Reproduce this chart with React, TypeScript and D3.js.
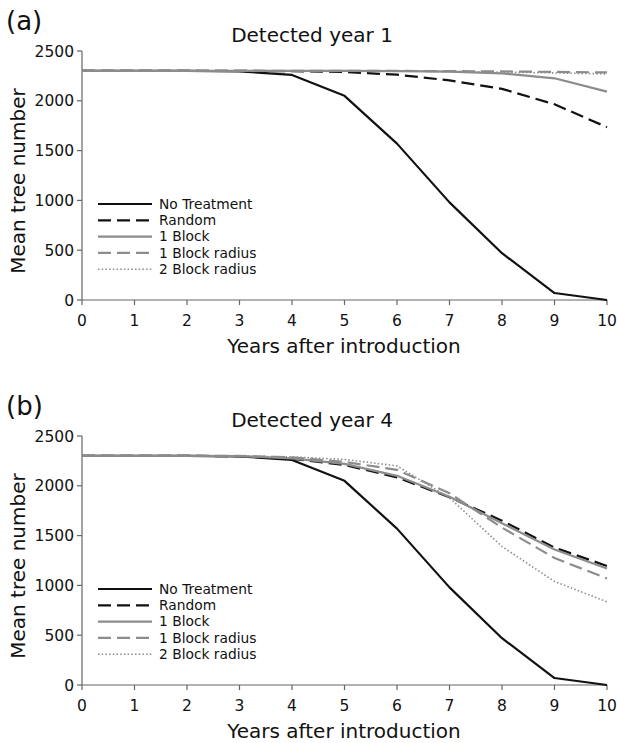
import React from "react";
import * as d3 from "d3";

const years = [0, 1, 2, 3, 4, 5, 6, 7, 8, 9, 10];
const yTicks = [0, 500, 1000, 1500, 2000, 2500];
const seriesNames = ["No Treatment", "Random", "1 Block", "1 Block radius", "2 Block radius"];

const aNoTreatment = [2300, 2300, 2300, 2295, 2260, 2050, 1570, 980, 470, 70, 0];
const aRandom = [2300, 2300, 2300, 2300, 2298, 2290, 2262, 2205, 2120, 1965, 1735];
const aBlock1 = [2300, 2300, 2300, 2300, 2300, 2300, 2298, 2292, 2276, 2226, 2092];
const aBlock1Radius = [2300, 2300, 2300, 2300, 2300, 2300, 2300, 2298, 2295, 2290, 2285];
const aBlock2Radius = [2300, 2300, 2300, 2300, 2300, 2300, 2298, 2294, 2288, 2280, 2270];

const bNoTreatment = [2300, 2300, 2300, 2295, 2260, 2050, 1570, 980, 470, 70, 0];
const bRandom = [2300, 2300, 2300, 2298, 2270, 2210, 2085, 1885, 1650, 1380, 1195];
const bBlock1 = [2300, 2300, 2300, 2298, 2275, 2220, 2100, 1890, 1625, 1360, 1170];
const bBlock1Radius = [2300, 2300, 2300, 2300, 2285, 2240, 2160, 1925, 1580, 1275, 1070];
const bBlock2Radius = [2300, 2300, 2300, 2300, 2290, 2265, 2200, 1880, 1390, 1040, 835];

const GREY = "#8c8c8c";
const styles = [
  { stroke: "#111", width: 2.2, dash: "" },
  { stroke: "#111", width: 2.2, dash: "13,6" },
  { stroke: GREY, width: 2.2, dash: "" },
  { stroke: GREY, width: 2.2, dash: "13,6" },
  { stroke: GREY, width: 1.6, dash: "1.5,2.2" },
];

const FONT = "DejaVu Sans, sans-serif";

function Panel({ top, label, title, data }: { top: number; label: string; title: string; data: number[][] }) {
  const x = d3.scaleLinear().domain([0, 10]).range([82, 607]);
  const y = d3.scaleLinear().domain([0, 2500]).range([top + 249, top]);
  const line = d3
    .line<number>()
    .x((_, i) => x(years[i]))
    .y((d) => y(d));
  const axisColor = "#666";
  const y0 = y(0);
  return (
    <g>
      <text x={6} y={top - 21} fontSize={26} fontFamily={FONT} fill="#111">{label}</text>
      <text x={312} y={top - 9} fontSize={20} fontFamily={FONT} textAnchor="middle" fill="#111">{title}</text>
      <line x1={x(0)} x2={x(10)} y1={y0} y2={y0} stroke={axisColor} strokeWidth={1.2} />
      <line x1={x(0)} x2={x(0)} y1={y(0)} y2={y(2500)} stroke={axisColor} strokeWidth={1.2} />
      {years.map((t) => (
        <g key={"x" + t}>
          <line x1={x(t)} x2={x(t)} y1={y0} y2={y0 + 5} stroke={axisColor} strokeWidth={1.2} />
          <text x={x(t)} y={y0 + 25.5} fontSize={15.5} fontFamily={FONT} textAnchor="middle" fill="#111">{t}</text>
        </g>
      ))}
      {yTicks.map((t) => (
        <g key={"y" + t}>
          <line x1={x(0) - 5} x2={x(0)} y1={y(t)} y2={y(t)} stroke={axisColor} strokeWidth={1.2} />
          <text x={x(0) - 8} y={y(t) + 5.5} fontSize={15.5} fontFamily={FONT} textAnchor="end" fill="#111">{t}</text>
        </g>
      ))}
      <text x={344} y={y0 + 53} fontSize={20} fontFamily={FONT} textAnchor="middle" fill="#111">Years after introduction</text>
      <text transform={`translate(25,${top + 130}) rotate(-90)`} fontSize={20} fontFamily={FONT} textAnchor="middle" fill="#111">Mean tree number</text>
      {data.map((s, i) => (
        <path key={"s" + i} d={line(s) || ""} fill="none" stroke={styles[i].stroke} strokeWidth={styles[i].width} strokeDasharray={styles[i].dash} strokeLinejoin="round" />
      ))}
      {seriesNames.map((n, i) => {
        const ly = top + 153 + i * 16.3;
        return (
          <g key={"l" + i}>
            <line x1={98} x2={152} y1={ly} y2={ly} stroke={styles[i].stroke} strokeWidth={styles[i].width} strokeDasharray={styles[i].dash} />
            <text x={159} y={ly + 4.8} fontSize={13.8} fontFamily={FONT} fill="#111">{n}</text>
          </g>
        );
      })}
    </g>
  );
}

export default function App() {
  return (
    <svg width={617} height={743} style={{ position: "absolute", left: 0, top: 0, background: "#fff" }}>
      <rect width={617} height={743} fill="#fff" />
      <Panel top={51} label="(a)" title="Detected year 1" data={[aNoTreatment, aRandom, aBlock1, aBlock1Radius, aBlock2Radius]} />
      <Panel top={436} label="(b)" title="Detected year 4" data={[bNoTreatment, bRandom, bBlock1, bBlock1Radius, bBlock2Radius]} />
    </svg>
  );
}
